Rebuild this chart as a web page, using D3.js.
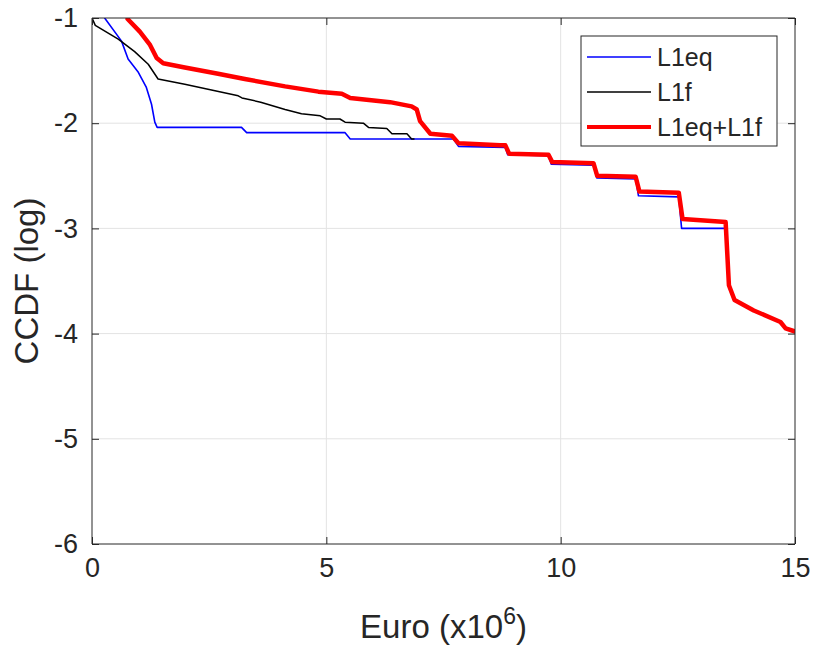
<!DOCTYPE html>
<html>
<head>
<meta charset="utf-8">
<script src="https://cdn.jsdelivr.net/npm/d3@7"></script>
<style>
  body { margin: 0; background: #fff; }
  svg text { font-family: Arial, "Liberation Sans", sans-serif; fill: #262626; }
</style>
</head>
<body>
<script>
var w = 816,
    h = 651;

// L1eq
var eqX = [0.27, 0.63, 0.77, 0.98, 1.16, 1.27, 1.34, 1.39, 3.19, 3.30, 5.40, 5.51, 7.71, 7.82, 8.82, 8.87, 9.74, 9.80, 10.70, 10.77, 11.60, 11.66, 12.52, 12.58, 13.52];
var eqY = [-1.0, -1.22, -1.39, -1.51, -1.66, -1.82, -1.99, -2.04, -2.04, -2.09, -2.09, -2.15, -2.15, -2.22, -2.23, -2.30, -2.31, -2.39, -2.40, -2.52, -2.53, -2.69, -2.70, -3.0, -3.0];

// L1f
var fX = [0, 0.07, 0.56, 0.91, 1.2, 1.41, 1.98, 2.5, 3.12, 3.2, 3.6, 4.12, 4.47, 4.87, 5.0, 5.29, 5.4, 5.79, 5.9, 6.29, 6.4, 6.72, 6.82, 6.87];
var fY = [-1.0, -1.07, -1.2, -1.32, -1.44, -1.58, -1.63, -1.68, -1.74, -1.76, -1.80, -1.87, -1.91, -1.93, -1.96, -1.96, -1.99, -2.0, -2.04, -2.05, -2.1, -2.1, -2.15, -2.15];

// L1eq+L1f
var sX = [0.76, 1.02, 1.23, 1.38, 1.52, 1.98, 2.69, 3.26, 4.12, 4.83, 5.33, 5.51, 6.36, 6.82, 6.93, 7.0, 7.22, 7.68, 7.82, 8.71, 8.82, 8.90, 9.74, 9.82, 10.70, 10.78, 11.60, 11.68, 12.52, 12.60, 13.52, 13.59, 13.71, 14.12, 14.69, 14.8, 15.0];
var sY = [-1.01, -1.13, -1.25, -1.38, -1.43, -1.47, -1.53, -1.58, -1.65, -1.70, -1.72, -1.76, -1.80, -1.84, -1.87, -1.98, -2.10, -2.12, -2.19, -2.21, -2.21, -2.29, -2.30, -2.37, -2.38, -2.50, -2.51, -2.65, -2.66, -2.91, -2.94, -3.54, -3.68, -3.78, -3.89, -3.95, -3.98];

var xTicks = [0, 5, 10, 15];
var yTicks = [-6, -5, -4, -3, -2, -1];

var seriesNames = ['L1eq', 'L1f', 'L1eq+L1f'];
var seriesColors = ['#0000ff', '#000000', '#ff0000'];
var seriesWidths = [1.6, 1.5, 4.5];

var pLeft = 92, pRight = 795, pTop = 18, pBottom = 544;

var svg = d3.select('body')
            .append('svg')
            .attr('width', w)
            .attr('height', h);

var x = d3.scaleLinear().domain([0, 15]).range([pLeft, pRight]);
var y = d3.scaleLinear().domain([-6, -1]).range([pBottom, pTop]);

// grid
svg.append('g')
   .selectAll('line')
   .data(xTicks.slice(1, -1))
   .enter()
   .append('line')
   .attr('x1', function(d) { return x(d); })
   .attr('x2', function(d) { return x(d); })
   .attr('y1', pTop)
   .attr('y2', pBottom)
   .style('stroke', '#e3e3e3')
   .style('stroke-width', 1);

svg.append('g')
   .selectAll('line')
   .data(yTicks.slice(1, -1))
   .enter()
   .append('line')
   .attr('x1', pLeft)
   .attr('x2', pRight)
   .attr('y1', function(d) { return y(d); })
   .attr('y2', function(d) { return y(d); })
   .style('stroke', '#e3e3e3')
   .style('stroke-width', 1);

// lines
svg.append('clipPath')
   .attr('id', 'clip')
   .append('rect')
   .attr('x', pLeft)
   .attr('y', pTop)
   .attr('width', pRight - pLeft)
   .attr('height', pBottom - pTop);

var line = d3.line()
             .x(function(d) { return x(d[0]); })
             .y(function(d) { return y(d[1]); });

var series = [d3.zip(eqX, eqY), d3.zip(fX, fY), d3.zip(sX, sY)];

svg.append('g')
   .attr('clip-path', 'url(#clip)')
   .selectAll('path')
   .data(series)
   .enter()
   .append('path')
   .attr('d', line)
   .style('fill', 'none')
   .style('stroke', function(d, i) { return seriesColors[i]; })
   .style('stroke-width', function(d, i) { return seriesWidths[i]; })
   .style('stroke-linejoin', 'round')
   .style('stroke-linecap', 'round');

// axes (box with inner ticks)
var axisColor = '#262626';
var tickLen = 7;
var plainNum = function(d) { return String(d); }; // keep ascii hyphen like the original

var xAxisB = d3.axisBottom(x).tickValues(xTicks).tickSize(-tickLen).tickPadding(14).tickFormat(plainNum);
var xAxisT = d3.axisTop(x).tickValues(xTicks).tickSize(-tickLen).tickFormat('');
var yAxisL = d3.axisLeft(y).tickValues(yTicks).tickSize(-tickLen).tickPadding(14).tickFormat(plainNum);
var yAxisR = d3.axisRight(y).tickValues(yTicks).tickSize(-tickLen).tickFormat('');

function styleAxis(g) {
  g.selectAll('.domain').style('stroke', axisColor).style('stroke-width', 1);
  g.selectAll('.tick line').style('stroke', axisColor);
  g.selectAll('text')
   .style('font-size', '27px')
   .style('font-family', 'Arial, "Liberation Sans", sans-serif')
   .style('fill', axisColor);
}

svg.append('g').attr('transform', 'translate(0,' + pBottom + ')').call(xAxisB).call(styleAxis)
   .selectAll('.domain').attr('d', 'M' + pLeft + ',0H' + pRight);
svg.append('g').attr('transform', 'translate(0,' + pTop + ')').call(xAxisT).call(styleAxis)
   .selectAll('.domain').attr('d', 'M' + pLeft + ',0H' + pRight);
svg.append('g').attr('transform', 'translate(' + pLeft + ',0)').call(yAxisL).call(styleAxis)
   .selectAll('.domain').attr('d', 'M0,' + pTop + 'V' + pBottom);
svg.append('g').attr('transform', 'translate(' + pRight + ',0)').call(yAxisR).call(styleAxis)
   .selectAll('.domain').attr('d', 'M0,' + pTop + 'V' + pBottom);

// axis labels
var xl = svg.append('text')
            .attr('x', (pLeft + pRight) / 2)
            .attr('y', 638)
            .attr('text-anchor', 'middle')
            .style('font-size', '33px');
xl.append('tspan').text('Euro (x10');
xl.append('tspan').attr('dy', -14).style('font-size', '23px').text('6');
xl.append('tspan').attr('dy', 14).text(')');

svg.append('text')
   .attr('transform', 'translate(38,' + ((pTop + pBottom) / 2) + ') rotate(-90)')
   .attr('text-anchor', 'middle')
   .style('font-size', '33px')
   .text('CCDF (log)');

// legend
var legend = svg.append('g');

legend.append('rect')
      .attr('x', 581)
      .attr('y', 36)
      .attr('width', 196)
      .attr('height', 110)
      .style('fill', '#fff')
      .style('stroke', '#262626')
      .style('stroke-width', 1);

var rows = legend.selectAll('g.row')
                 .data(seriesNames)
                 .enter()
                 .append('g')
                 .attr('class', 'row')
                 .attr('transform', function(d, i) { return 'translate(0,' + (57 + i * 35) + ')'; });

rows.append('line')
    .attr('x1', 587)
    .attr('x2', 651)
    .attr('y1', 0)
    .attr('y2', 0)
    .style('stroke', function(d, i) { return seriesColors[i]; })
    .style('stroke-width', function(d, i) { return i === 2 ? 4 : 1.5; });

rows.append('text')
    .attr('x', 657)
    .attr('y', 9)
    .style('font-size', '25px')
    .text(function(d) { return d; });
</script>
</body>
</html>
